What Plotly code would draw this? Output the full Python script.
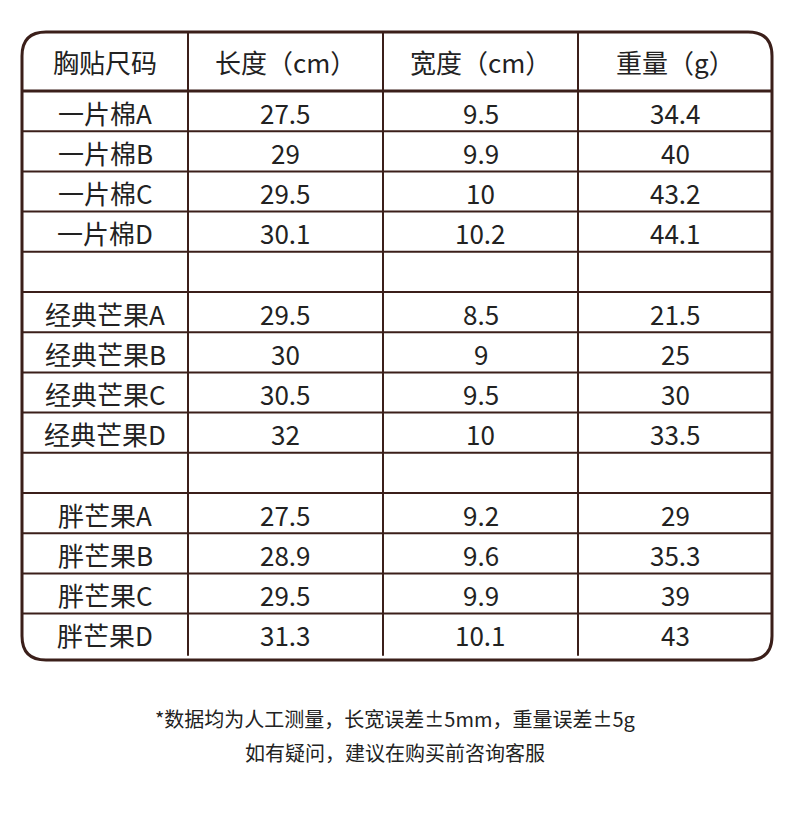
import plotly.graph_objects as go

header = ["胸贴尺码", "长度（cm）", "宽度（cm）", "重量（g）"]
sizes = ["一片棉A","一片棉B","一片棉C","一片棉D","",
         "经典芒果A","经典芒果B","经典芒果C","经典芒果D","",
         "胖芒果A","胖芒果B","胖芒果C","胖芒果D"]
length = ["27.5","29","29.5","30.1","","29.5","30","30.5","32","","27.5","28.9","29.5","31.3"]
width_ = ["9.5","9.9","10","10.2","","8.5","9","9.5","10","","9.2","9.6","9.9","10.1"]
weight = ["34.4","40","43.2","44.1","","21.5","25","30","33.5","","29","35.3","39","43"]
notes = ["*数据均为人工测量，长宽误差±5mm，重量误差±5g", "如有疑问，建议在购买前咨询客服"]

C = "#3b1f1a"
FONT = "Noto Sans CJK SC"
L, R, T, B = 22, 772, 32, 660
col_edges = [L, 188, 383, 578, R]
hdr_bot = 91
row_h = 40.2

fig = go.Figure()
shapes = []
r = 24
path = (f"M {L+r},{T} L {R-r},{T} Q {R},{T} {R},{T+r} L {R},{B-r} Q {R},{B} {R-r},{B} "
        f"L {L+r},{B} Q {L},{B} {L},{B-r} L {L},{T+r} Q {L},{T} {L+r},{T} Z")
shapes.append(dict(type="path", path=path, line=dict(color=C, width=3), xref="x", yref="y"))
shapes.append(dict(type="line", x0=L, x1=R, y0=hdr_bot, y1=hdr_bot, line=dict(color=C, width=3)))
n = len(sizes)
for i in range(1, n):
    y = hdr_bot + row_h * i
    shapes.append(dict(type="line", x0=L, x1=R, y0=y, y1=y, line=dict(color=C, width=2)))
for x in col_edges[1:-1]:
    shapes.append(dict(type="line", x0=x, x1=x, y0=T, y1=hdr_bot + row_h * n + 2, line=dict(color=C, width=2)))

ann = []
cols = [sizes, length, width_, weight]
centers = [(col_edges[j] + col_edges[j+1]) / 2 for j in range(4)]
for j, h in enumerate(header):
    ann.append(dict(x=centers[j], y=(T + hdr_bot) / 2, text=h, showarrow=False,
                    font=dict(size=26, color="#222", family=FONT)))
for j, col in enumerate(cols):
    for i, v in enumerate(col):
        if v:
            ann.append(dict(x=centers[j], y=hdr_bot + row_h * (i + 0.5) + 1, text=v, showarrow=False,
                            font=dict(size=26, color="#222", family=FONT)))
for k, t in enumerate(notes):
    ann.append(dict(x=395, y=718 + 34 * k, text=t, showarrow=False,
                    font=dict(size=20, color="#222", family=FONT)))

fig.update_layout(width=790, height=840, margin=dict(l=0, r=0, t=0, b=0),
                  plot_bgcolor="white", paper_bgcolor="white",
                  xaxis=dict(range=[8, 798], visible=False, fixedrange=True),
                  yaxis=dict(range=[848, 8], visible=False, fixedrange=True),
                  shapes=shapes, annotations=ann, showlegend=False)
fig.write_html("out.html")
